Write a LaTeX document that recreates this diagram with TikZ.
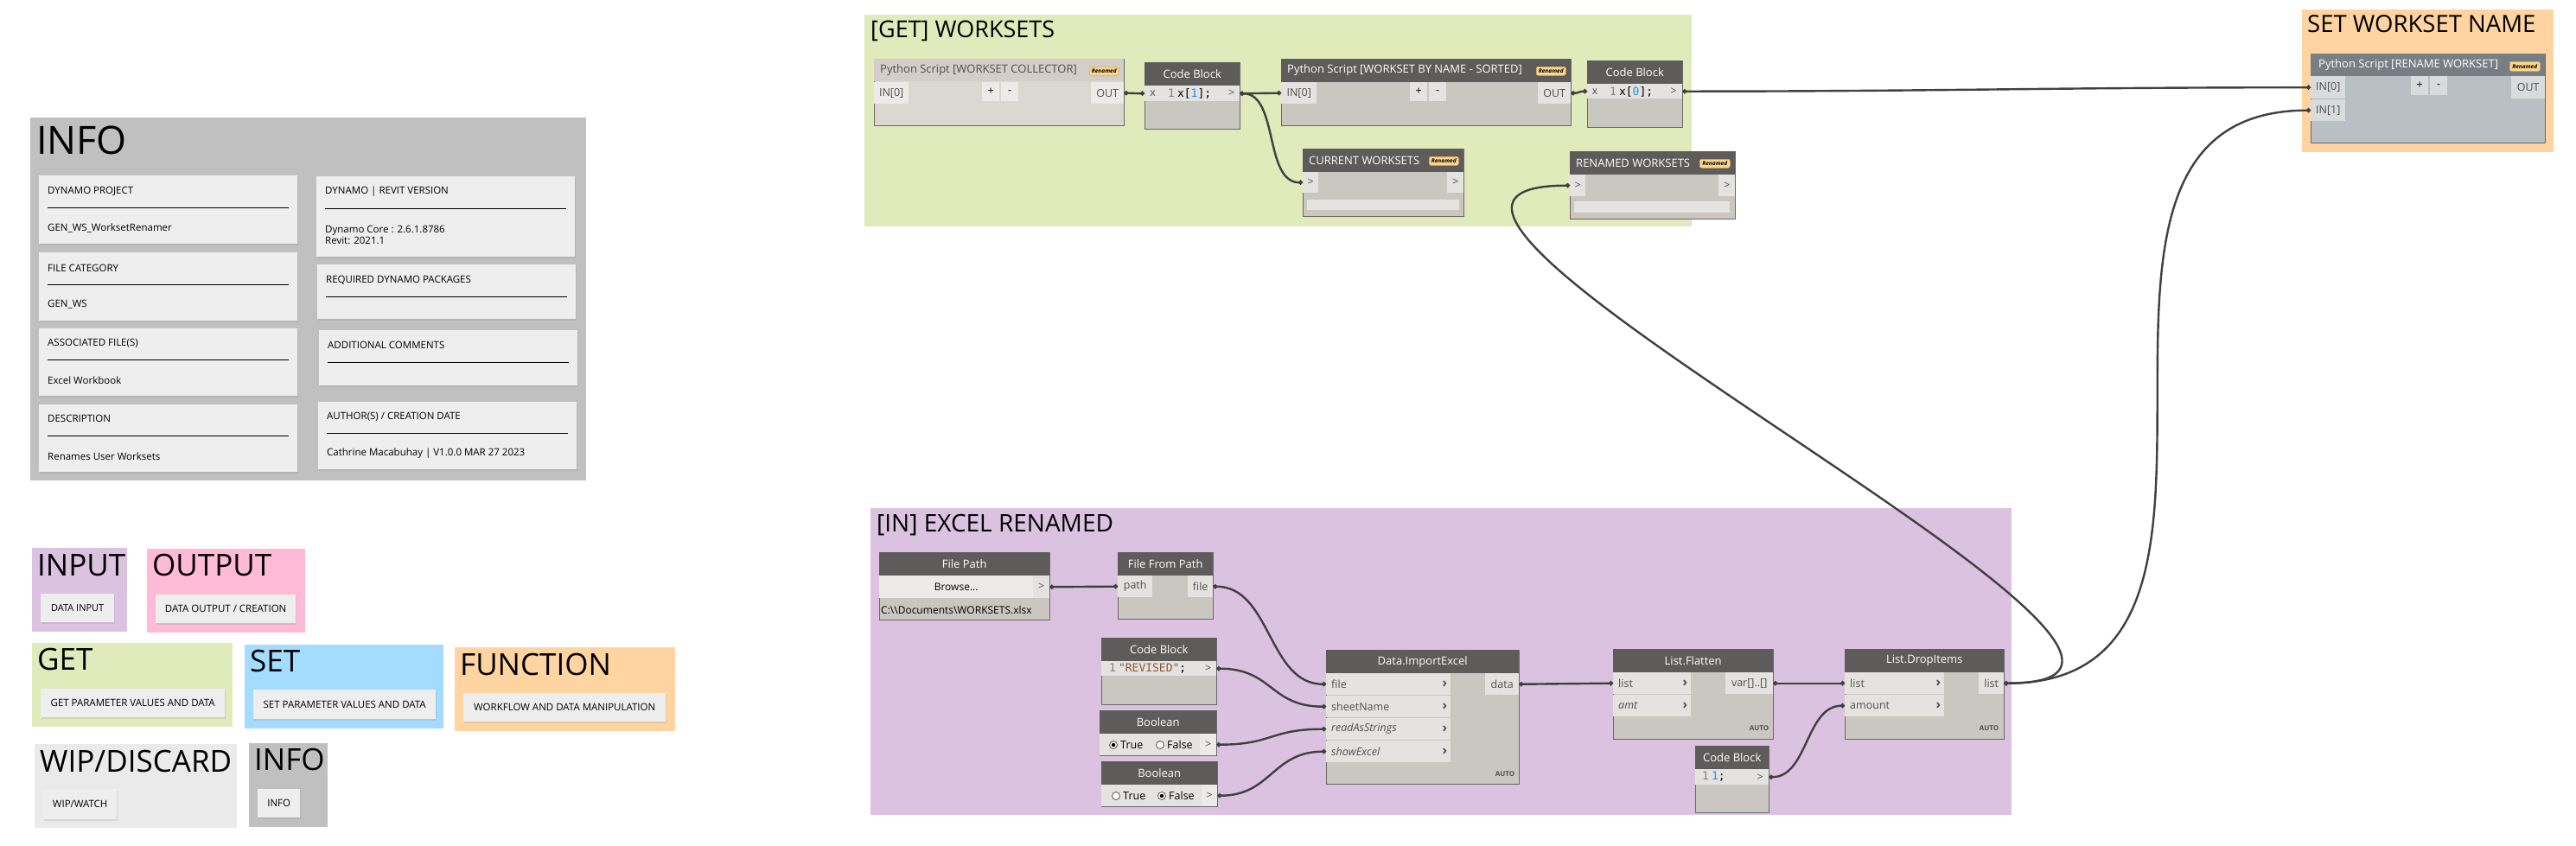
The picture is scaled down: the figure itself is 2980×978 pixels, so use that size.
\documentclass[tikz,border=0pt]{standalone}
\usepackage{fontspec}
\setmainfont{Open Sans}
\setmonofont{DejaVu Sans Mono}
\usetikzlibrary{positioning,shadows,arrows.meta}

\definecolor{infogrey}{RGB}{192,192,192}
\definecolor{cardgrey}{RGB}{238,238,238}
\definecolor{inpurple}{RGB}{220,194,225}
\definecolor{outpink}{RGB}{255,186,214}
\definecolor{getgreen}{RGB}{225,234,187}
\definecolor{setblue}{RGB}{164,220,255}
\definecolor{fnorange}{RGB}{255,212,160}
\definecolor{wipgrey}{RGB}{234,234,234}
\definecolor{headgrey}{RGB}{94,92,90}
\definecolor{bodygrey}{RGB}{202,198,192}
\definecolor{portgrey}{RGB}{229,227,223}
\definecolor{edgegrey}{RGB}{105,105,105}
\definecolor{wiregrey}{RGB}{64,64,64}
\definecolor{offhead}{RGB}{211,206,199}
\definecolor{offbody}{RGB}{219,216,210}
\definecolor{offport}{RGB}{236,235,232}
\definecolor{slatehead}{RGB}{119,127,133}
\definecolor{slatebody}{RGB}{185,191,194}
\definecolor{slateport}{RGB}{216,220,221}
\definecolor{badge}{RGB}{252,214,140}
\definecolor{badgeedge}{RGB}{214,170,90}
\definecolor{codeblue}{RGB}{30,144,255}
\definecolor{codebrown}{RGB}{140,90,50}
\definecolor{textgrey}{RGB}{80,80,80}
\definecolor{linegrey}{RGB}{130,130,130}

\newcommand{\pxfont}[1]{\fontsize{#1}{#1}\selectfont}

\begin{document}
\begin{tikzpicture}[x=1pt,y=-1pt,
  grp/.style={fill=#1,anchor=north west,inner sep=0pt},
  wh/.style 2 args={minimum width=#1pt,minimum height=#2pt},
  ttl/.style={anchor=base west,inner sep=0pt,font=\pxfont{#1}},
  card/.style={fill=cardgrey,anchor=north west,inner sep=0pt,font=\pxfont{11.5},
    drop shadow={opacity=.18,shadow xshift=1pt,shadow yshift=-1.5pt}},
  ctxt/.style={anchor=west,inner sep=0pt,font=\pxfont{11.5},align=left},
  body/.style={fill=#1,draw=edgegrey,line width=.8pt,anchor=north west,inner sep=0pt},
  head/.style={fill=#1,anchor=north west,inner sep=0pt},
  htxt/.style={inner sep=0pt,text=white,font=\pxfont{13}},
  port/.style={fill=#1,anchor=north west,inner sep=0pt},
  ptxt/.style={inner sep=0pt,text=textgrey,font=\pxfont{12.5}},
  chev/.style={inner sep=0pt,text=textgrey,font=\bfseries\pxfont{15}},
  auto/.style={inner sep=0pt,text=textgrey,font=\bfseries\pxfont{8}},
  codetxt/.style={anchor=west,inner sep=0pt,font=\ttfamily\pxfont{13}},
  badgebox/.style={fill=badge,draw=badgeedge,line width=.5pt,rounded corners=2pt,
    anchor=north west,inner sep=0pt,font=\bfseries\itshape\pxfont{6.5}},
  btn/.style={fill=offport,anchor=north west,inner sep=0pt,font=\pxfont{12}},
  radio/.style={circle,draw=black!75,fill=white,line width=.7pt,minimum size=9pt,inner sep=0pt},
  dot/.style={circle,fill=black,minimum size=4.5pt,inner sep=0pt},
  bar/.style={fill=portgrey,anchor=north west,inner sep=0pt},
  wire/.style={draw=wiregrey,line width=2.4pt,{Circle[length=5pt]}-{Circle[length=5pt]}}]

\useasboundingbox (0,0) rectangle (2980,978);

% info block
\node[grp=infogrey,wh={643}{420}] (infogrp) at (35,136) {};
\node[ttl=45] (infottl) at (42,178) {INFO};

\node[card,wh={299}{79}] (prj) at (45,203) {};
\node[ctxt] (prjh) at (55,221) {DYNAMO PROJECT};
\draw[line width=.8pt] (55,240) -- (334,240);
\node[ctxt] (prjv) at (55,264) {GEN\_WS\_WorksetRenamer};

\node[card,wh={299}{79}] (cat) at (45,292) {};
\node[ctxt] (cath) at (55,310) {FILE CATEGORY};
\draw[line width=.8pt] (55,329) -- (334,329);
\node[ctxt] (catv) at (55,352) {GEN\_WS};

\node[card,wh={299}{78}] (assoc) at (45,380) {};
\node[ctxt] (assoch) at (55,397) {ASSOCIATED FILE(S)};
\draw[line width=.8pt] (55,416) -- (334,416);
\node[ctxt] (assocv) at (55,440) {Excel Workbook};

\node[card,wh={299}{78}] (desc) at (45,468) {};
\node[ctxt] (desch) at (55,484) {DESCRIPTION};
\draw[line width=.8pt] (55,504) -- (334,504);
\node[ctxt] (descv) at (55,528) {Renames User Worksets};

\node[card,wh={299}{93}] (ver) at (366,204) {};
\node[ctxt] (verh) at (376,222) {DYNAMO | REVIT VERSION};
\draw[line width=.8pt] (376,241) -- (655,241);
\node[ctxt] (verv) at (376,272) {Dynamo Core : 2.6.1.8786\\[1pt]Revit: 2021.1};

\node[card,wh={299}{63}] (pkg) at (367,306) {};
\node[ctxt] (pkgh) at (377,324) {REQUIRED DYNAMO PACKAGES};
\draw[line width=.8pt] (377,343) -- (656,343);

\node[card,wh={299}{64}] (cmt) at (369,382) {};
\node[ctxt] (cmth) at (379,399) {ADDITIONAL COMMENTS};
\draw[line width=.8pt] (379,419) -- (658,419);

\node[card,wh={299}{78}] (auth) at (368,465) {};
\node[ctxt] (authh) at (378,482) {AUTHOR(S) / CREATION DATE};
\draw[line width=.8pt] (378,501) -- (657,501);
\node[ctxt] (authv) at (378,525) {Cathrine Macabuhay | V1.0.0 MAR 27 2023};

% legend
\node[grp=inpurple,wh={110}{97}] (ingrp) at (37,634) {};
\node[ttl=35] (inttl) at (43,666) {INPUT};
\node[card,wh={85}{33},font=\pxfont{11}] (incard) at (47,687) {DATA INPUT};

\node[grp=outpink,wh={183}{97}] (outgrp) at (170,635) {};
\node[ttl=35] (outttl) at (176,666) {OUTPUT};
\node[card,wh={162}{33}] (outcard) at (180,688) {DATA OUTPUT / CREATION};

\node[grp=getgreen,wh={232}{97}] (getgrp) at (37,744) {};
\node[ttl=35] (getttl) at (43,775) {GET};
\node[card,wh={213}{33}] (getcard) at (47,797) {GET PARAMETER VALUES AND DATA};

\node[grp=setblue,wh={230}{97}] (setgrp) at (283,746) {};
\node[ttl=35] (setttl) at (289,777) {SET};
\node[card,wh={211}{34}] (setcard) at (293,798) {SET PARAMETER VALUES AND DATA};

\node[grp=fnorange,wh={255}{97}] (fungrp) at (526,749) {};
\node[ttl=35] (funttl) at (532,781) {FUNCTION};
\node[card,wh={234}{33}] (funcard) at (536,802) {WORKFLOW AND DATA MANIPULATION};

\node[grp=wipgrey,wh={234}{97}] (wipgrp) at (40,861) {};
\node[ttl=35] (wipttl) at (46,893) {WIP/DISCARD};
\node[card,wh={85}{35}] (wipcard) at (50,913) {WIP/WATCH};

\node[grp=infogrey,wh={91}{97}] (infolgrp) at (288,860) {};
\node[ttl=35] (infolttl) at (294,891) {INFO};
\node[card,wh={49}{33}] (infolcard) at (298,913) {INFO};

% [GET] WORKSETS
\node[grp=getgreen,wh={957}{245}] (getws) at (1000,17) {};
\node[ttl=27] (getwsttl) at (1007,43) {[GET] WORKSETS};

\node[body=offbody,wh={289}{77}] (pycoll) at (1011,68) {};
\node[head=offhead,wh={289}{26}] (pycoll-h) at (1011,68) {};
\node[htxt,text=textgrey,anchor=west] (pycoll-t) at (1018,81) {Python Script [WORKSET COLLECTOR]};
\node[badgebox,wh={34}{10}] (pycoll-b) at (1260,77) {Renamed};
\node[port=offport,wh={40}{25},ptxt] (pycoll-in) at (1011,95) {IN[0]};
\node[port=offport,wh={20}{22},ptxt,text=black] (pycoll-p) at (1136,95) {+};
\node[port=offport,wh={20}{22},ptxt,text=black] (pycoll-m) at (1158,95) {-};
\node[port=offport,wh={38}{25},ptxt] (pycoll-out) at (1262,95) {OUT};

\node[body=bodygrey,wh={110}{77}] (cbidx) at (1324,72) {};
\node[head=headgrey,wh={110}{27}] (cbidx-h) at (1324,72) {};
\node[htxt] (cbidx-t) at (cbidx-h.center) {Code Block};
\node[port=portgrey,wh={19}{18},ptxt] (cbidx-x) at (1324,99) {x};
\node[port=portgrey,wh={72}{18}] (cbidx-c) at (1343,99) {};
\node[codetxt] (cbidx-code) at (1351,108) {\textcolor{linegrey}{1}\hspace{3pt}x[\textcolor{codeblue}{1}];};
\node[port=portgrey,wh={19}{18},ptxt] (cbidx-o) at (1415,99) {>};

\node[body=bodygrey,wh={335}{77}] (pyname) at (1482,68) {};
\node[head=headgrey,wh={335}{27}] (pyname-h) at (1482,68) {};
\node[htxt,anchor=west] (pyname-t) at (1489,81) {Python Script [WORKSET BY NAME - SORTED]};
\node[badgebox,wh={34}{10}] (pyname-b) at (1777,77) {Renamed};
\node[port=portgrey,wh={41}{25},ptxt] (pyname-in) at (1482,95) {IN[0]};
\node[port=portgrey,wh={20}{22},ptxt,text=black] (pyname-p) at (1631,95) {+};
\node[port=portgrey,wh={20}{22},ptxt,text=black] (pyname-m) at (1653,95) {-};
\node[port=portgrey,wh={38}{25},ptxt] (pyname-out) at (1779,95) {OUT};

\node[body=bodygrey,wh={110}{77}] (cbfirst) at (1836,70) {};
\node[head=headgrey,wh={110}{27}] (cbfirst-h) at (1836,70) {};
\node[htxt] (cbfirst-t) at (cbfirst-h.center) {Code Block};
\node[port=portgrey,wh={18}{17},ptxt] (cbfirst-x) at (1836,97) {x};
\node[port=portgrey,wh={72}{17}] (cbfirst-c) at (1854,97) {};
\node[codetxt] (cbfirst-code) at (1862,106) {\textcolor{linegrey}{1}\hspace{3pt}x[\textcolor{codeblue}{0}];};
\node[port=portgrey,wh={20}{17},ptxt] (cbfirst-o) at (1926,97) {>};

\node[body=bodygrey,wh={186}{78}] (curws) at (1507,172) {};
\node[head=headgrey,wh={186}{27}] (curws-h) at (1507,172) {};
\node[htxt,anchor=west] (curws-t) at (1514,186) {CURRENT WORKSETS};
\node[badgebox,wh={34}{10}] (curws-b) at (1653,181) {Renamed};
\node[port=portgrey,wh={18}{24},ptxt] (curws-in) at (1507,199) {>};
\node[port=portgrey,wh={19}{24},ptxt] (curws-out) at (1674,199) {>};
\node[bar,wh={176}{12}] (curws-bar) at (1512,231) {};

\node[body=bodygrey,wh={191}{78}] (renws) at (1816,175) {};
\node[head=headgrey,wh={191}{27}] (renws-h) at (1816,175) {};
\node[htxt,anchor=west] (renws-t) at (1823,189) {RENAMED WORKSETS};
\node[badgebox,wh={35}{10}] (renws-b) at (1966,184) {Renamed};
\node[port=portgrey,wh={18}{25},ptxt] (renws-in) at (1816,202) {>};
\node[port=portgrey,wh={19}{25},ptxt] (renws-out) at (1988,202) {>};
\node[bar,wh={180}{13}] (renws-bar) at (1821,233) {};

% SET WORKSET NAME
\node[grp=fnorange,wh={291}{165}] (setname) at (2663,11) {};
\node[ttl=27.5] (setnamettl) at (2669,37) {SET WORKSET NAME};

\node[body=slatebody,wh={271}{103}] (pyren) at (2673,62) {};
\node[head=slatehead,wh={271}{26}] (pyren-h) at (2673,62) {};
\node[htxt,anchor=west] (pyren-t) at (2682,75) {Python Script [RENAME WORKSET]};
\node[badgebox,wh={35}{11}] (pyren-b) at (2903,71) {Renamed};
\node[port=slateport,wh={40}{26},ptxt] (pyren-in0) at (2673,88) {IN[0]};
\node[port=slateport,wh={40}{25},ptxt] (pyren-in1) at (2673,115) {IN[1]};
\node[port=slateport,wh={20}{22},ptxt,text=black] (pyren-p) at (2789,88) {+};
\node[port=slateport,wh={20}{22},ptxt,text=black] (pyren-m) at (2811,88) {-};
\node[port=slateport,wh={39}{26},ptxt] (pyren-out) at (2905,88) {OUT};

% [IN] EXCEL RENAMED
\node[grp=inpurple,wh={1320}{355}] (excelgrp) at (1007,588) {};
\node[ttl=28] (excelttl) at (1014,615) {[IN] EXCEL RENAMED};

\node[body=bodygrey,wh={197}{78}] (fpath) at (1017,639) {};
\node[head=headgrey,wh={197}{27}] (fpath-h) at (1017,639) {};
\node[htxt] (fpath-t) at (fpath-h.center) {File Path};
\node[btn,wh={178}{26}] (fpath-btn) at (1017,666) {Browse...};
\node[port=portgrey,wh={19}{26},ptxt] (fpath-o) at (1195,666) {>};
\node[ctxt,font=\pxfont{12}] (fpath-v) at (1019,706) {C:\textbackslash\textbackslash Documents\textbackslash WORKSETS.xlsx};

\node[body=bodygrey,wh={110}{77}] (ffp) at (1293,639) {};
\node[head=headgrey,wh={110}{27}] (ffp-h) at (1293,639) {};
\node[htxt] (ffp-t) at (ffp-h.center) {File From Path};
\node[port=portgrey,wh={40}{25},ptxt] (ffp-path) at (1293,666) {path};
\node[port=portgrey,wh={29}{25},ptxt] (ffp-file) at (1374,666) {file};

\node[body=bodygrey,wh={133}{77}] (cbsheet) at (1274,738) {};
\node[head=headgrey,wh={133}{27}] (cbsheet-h) at (1274,738) {};
\node[htxt] (cbsheet-t) at (cbsheet-h.center) {Code Block};
\node[port=portgrey,wh={114}{17}] (cbsheet-c) at (1274,765) {};
\node[codetxt] (cbsheet-code) at (1283,774) {\textcolor{linegrey}{1}\hspace{3pt}\textcolor{codebrown}{"REVISED"};};
\node[port=portgrey,wh={19}{17},ptxt] (cbsheet-o) at (1388,765) {>};

\node[body=bodygrey,wh={135}{52}] (bstr) at (1272,822) {};
\node[head=headgrey,wh={135}{27}] (bstr-h) at (1272,822) {};
\node[htxt] (bstr-t) at (bstr-h.center) {Boolean};
\node[port=portgrey,wh={116}{25}] (bstr-row) at (1272,849) {};
\node[radio] (bstr-true) at (1288,862) {};
\node[dot] (bstr-dot) at (bstr-true) {};
\node[ptxt,text=black,anchor=west] (bstr-tl) at (1296,862) {True};
\node[radio] (bstr-false) at (1342,862) {};
\node[ptxt,text=black,anchor=west] (bstr-fl) at (1350,862) {False};
\node[port=offport,wh={19}{25},ptxt] (bstr-o) at (1388,849) {>};

\node[body=bodygrey,wh={134}{52}] (bshow) at (1274,881) {};
\node[head=headgrey,wh={134}{27}] (bshow-h) at (1274,881) {};
\node[htxt] (bshow-t) at (bshow-h.center) {Boolean};
\node[port=portgrey,wh={116}{25}] (bshow-row) at (1274,908) {};
\node[radio] (bshow-true) at (1291,921) {};
\node[ptxt,text=black,anchor=west] (bshow-tl) at (1299,921) {True};
\node[radio] (bshow-false) at (1344,921) {};
\node[dot] (bshow-dot) at (bshow-false) {};
\node[ptxt,text=black,anchor=west] (bshow-fl) at (1352,921) {False};
\node[port=offport,wh={18}{25},ptxt] (bshow-o) at (1390,908) {>};

\node[body=bodygrey,wh={223}{155}] (xl) at (1534,752) {};
\node[head=headgrey,wh={223}{27}] (xl-h) at (1534,752) {};
\node[htxt] (xl-t) at (xl-h.center) {Data.ImportExcel};
\node[port=portgrey,wh={144}{25}] (xl-file) at (1534,779) {};
\node[ptxt,anchor=west] (xl-file-l) at ([xshift=6pt]xl-file.west) {file};
\node[chev] (xl-file-c) at ([xshift=-7pt]xl-file.east) {›};
\node[port=portgrey,wh={144}{25}] (xl-sheet) at (1534,805) {};
\node[ptxt,anchor=west] (xl-sheet-l) at ([xshift=6pt]xl-sheet.west) {sheetName};
\node[chev] (xl-sheet-c) at ([xshift=-7pt]xl-sheet.east) {›};
\node[port=portgrey,wh={144}{25}] (xl-read) at (1534,831) {};
\node[ptxt,anchor=west,font=\itshape\pxfont{12.5}] (xl-read-l) at ([xshift=6pt]xl-read.west) {readAsStrings};
\node[chev] (xl-read-c) at ([xshift=-7pt]xl-read.east) {›};
\node[port=portgrey,wh={144}{25}] (xl-show) at (1534,857) {};
\node[ptxt,anchor=west,font=\itshape\pxfont{12.5}] (xl-show-l) at ([xshift=6pt]xl-show.west) {showExcel};
\node[chev] (xl-show-c) at ([xshift=-7pt]xl-show.east) {›};
\node[port=portgrey,wh={39}{25},ptxt] (xl-data) at (1718,779) {data};
\node[auto] (xl-auto) at (1741,896) {AUTO};

\node[body=bodygrey,wh={185}{104}] (fl) at (1866,751) {};
\node[head=headgrey,wh={185}{27}] (fl-h) at (1866,751) {};
\node[htxt] (fl-t) at (fl-h.center) {List.Flatten};
\node[port=portgrey,wh={90}{25}] (fl-list) at (1866,778) {};
\node[ptxt,anchor=west] (fl-list-l) at ([xshift=6pt]fl-list.west) {list};
\node[chev] (fl-list-c) at ([xshift=-7pt]fl-list.east) {›};
\node[port=portgrey,wh={90}{25}] (fl-amt) at (1866,804) {};
\node[ptxt,anchor=west,font=\itshape\pxfont{12.5}] (fl-amt-l) at ([xshift=6pt]fl-amt.west) {amt};
\node[chev] (fl-amt-c) at ([xshift=-7pt]fl-amt.east) {›};
\node[port=portgrey,wh={55}{25},ptxt] (fl-var) at (1996,778) {var[]..[]};
\node[auto] (fl-auto) at (2035,843) {AUTO};

\node[body=bodygrey,wh={184}{104}] (dr) at (2134,751) {};
\node[head=headgrey,wh={184}{27}] (dr-h) at (2134,751) {};
\node[htxt] (dr-t) at (dr-h.center) {List.DropItems};
\node[port=portgrey,wh={115}{25}] (dr-list) at (2134,778) {};
\node[ptxt,anchor=west] (dr-list-l) at ([xshift=6pt]dr-list.west) {list};
\node[chev] (dr-list-c) at ([xshift=-7pt]dr-list.east) {›};
\node[port=portgrey,wh={115}{25}] (dr-amount) at (2134,804) {};
\node[ptxt,anchor=west] (dr-amount-l) at ([xshift=6pt]dr-amount.west) {amount};
\node[chev] (dr-amount-c) at ([xshift=-7pt]dr-amount.east) {›};
\node[port=portgrey,wh={29}{25},ptxt] (dr-out) at (2289,778) {list};
\node[auto] (dr-auto) at (2301,843) {AUTO};

\node[body=bodygrey,wh={85}{77}] (cbone) at (1961,863) {};
\node[head=headgrey,wh={85}{27}] (cbone-h) at (1961,863) {};
\node[htxt] (cbone-t) at (cbone-h.center) {Code Block};
\node[port=portgrey,wh={65}{18}] (cbone-c) at (1961,890) {};
\node[codetxt] (cbone-code) at (1969,899) {\textcolor{linegrey}{1}\hspace{3pt}\textcolor{codeblue}{1};};
\node[port=portgrey,wh={20}{18},ptxt] (cbone-o) at (2026,890) {>};

% wires
\draw[wire] (pycoll-out.east) .. controls +(12,0) and +(-12,0) .. (cbidx-x.west);
\draw[wire] (cbidx-o.east) .. controls +(24,0) and +(-24,0) .. (pyname-in.west);
\draw[wire] (cbidx-o.east) .. controls +(45,0) and +(-45,0) .. (curws-in.west);
\draw[wire] (pyname-out.east) .. controls +(10,0) and +(-10,0) .. (cbfirst-x.west);
\draw[wire] (cbfirst-o.east) .. controls +(300,0) and +(-300,0) .. (pyren-in0.west);
\draw[wire] (fpath-o.east) .. controls +(40,0) and +(-40,0) .. (ffp-path.west);
\draw[wire] (ffp-file.east) .. controls +(67,0) and +(-67,0) .. (xl-file.west);
\draw[wire] (cbsheet-o.east) .. controls +(65,0) and +(-65,0) .. (xl-sheet.west);
\draw[wire] (bstr-o.east) .. controls +(65,0) and +(-65,0) .. (xl-read.west);
\draw[wire] (bshow-o.east) .. controls +(62,0) and +(-62,0) .. (xl-show.west);
\draw[wire] (xl-data.east) .. controls +(55,0) and +(-55,0) .. (fl-list.west);
\draw[wire] (fl-var.east) .. controls +(40,0) and +(-40,0) .. (dr-list.west);
\draw[wire] (cbone-o.east) .. controls +(45,0) and +(-45,0) .. (dr-amount.west);
\draw[wire] (dr-out.east) .. controls +(350,0) and +(-350,0) .. (renws-in.west);
\draw[wire] (dr-out.east) .. controls +(350,0) and +(-350,0) .. (pyren-in1.west);
\end{tikzpicture}
\end{document}
